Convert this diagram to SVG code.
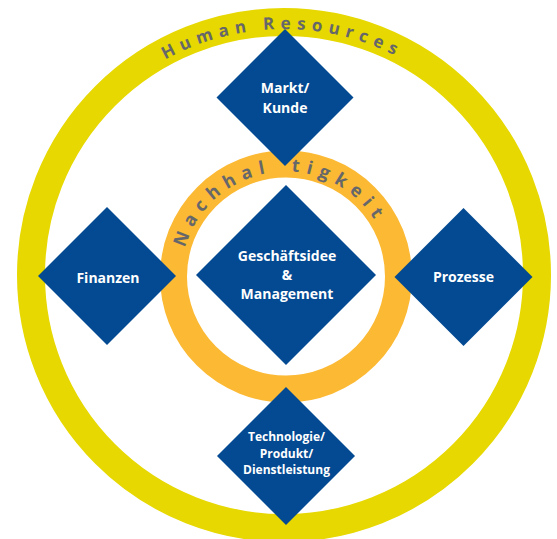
<svg xmlns="http://www.w3.org/2000/svg" width="557" height="539" viewBox="0 0 557 539">
<style>
.ring{fill:none}
.dia{fill:#034a92}
.lbl{font-family:"Open Sans","Liberation Sans",sans-serif;font-weight:700;font-size:14px;fill:#ffffff;text-anchor:middle}
.small{font-size:12px}
.arc{font-family:"Open Sans","Liberation Sans",sans-serif;font-weight:700;fill:#66676a}
</style>
<defs>
<path id="hrPath" d="M 38 275 A 246 246 0 0 1 530 275"/>
<path id="nPath" d="M 181 276.5 A 105 105 0 0 1 391 276.5"/>
</defs>
<rect width="557" height="539" fill="#ffffff"/>
<g id="ring-hr">
<circle class="ring" cx="284" cy="275" r="253" stroke="#e6d800" stroke-width="28"/>
</g>
<g id="ring-nachhaltigkeit">
<circle class="ring" cx="286" cy="276.5" r="112.5" stroke="#fbb934" stroke-width="27"/>
</g>
<g id="connectors"></g>
<g id="node-markt">
<polygon class="dia" points="285,29 353.5,97.5 285,166 216.5,97.5"/>
<text class="lbl" x="285" y="93">Markt/</text>
<text class="lbl" x="285" y="112.5">Kunde</text>
</g>
<g id="node-finanzen">
<polygon class="dia" points="107,207 176,276 107,345 38,276"/>
<text class="lbl" x="108" y="282.5">Finanzen</text>
</g>
<g id="node-prozesse">
<polygon class="dia" points="463.5,208 532.5,277 463.5,346 394.5,277"/>
<text class="lbl" x="463.5" y="282">Prozesse</text>
</g>
<g id="node-center">
<polygon class="dia" points="286,185 376,275 286,365 196,275"/>
<text class="lbl" x="287" y="261">Geschäftsidee</text>
<text class="lbl" x="287" y="280">&amp;</text>
<text class="lbl" x="287" y="299">Management</text>
</g>
<g id="node-technologie">
<polygon class="dia" points="286,387 355,456 286,525 217,456"/>
<text class="lbl small" x="286.5" y="441">Technologie/</text>
<text class="lbl small" x="286.5" y="457.5">Produkt/</text>
<text class="lbl small" x="286.5" y="474">Dienstleistung</text>
</g>
<g id="label-hr">
<text class="arc" font-size="17" letter-spacing="6.1"><textPath href="#hrPath" startOffset="262">Human Resources</textPath></text>
</g>
<g id="label-nachhaltigkeit">
<text class="arc" font-size="18" letter-spacing="6.7" word-spacing="8"><textPath href="#nPath" startOffset="29">Nachhal tigkeit</textPath></text>
</g>
</svg>
